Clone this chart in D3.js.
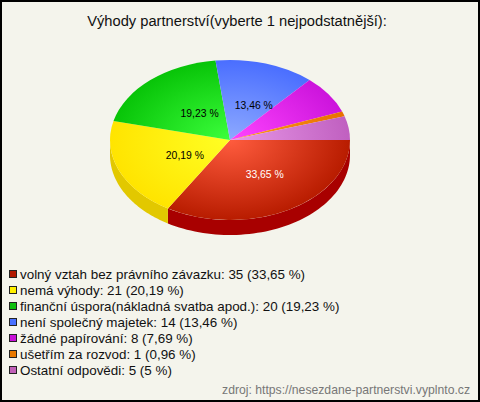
<!DOCTYPE html>
<html><head><meta charset="utf-8">
<script src="https://cdn.jsdelivr.net/npm/d3@7/dist/d3.min.js"></script>
<style>html,body{margin:0;padding:0;background:#f4f4ec}svg{display:block}text{font-family:"Liberation Sans",Arial,sans-serif}</style>
</head><body><svg id="c" width="480" height="402"></svg>
<script>
const categories=["volný vztah bez právního závazku","nemá výhody","finanční úspora(nákladná svatba apod.)","není společný majetek","žádné papírování","ušetřím za rozvod","Ostatní odpovědi"];
const values=[35,21,20,14,8,1,5];
const percentLabels=["33,65 %","20,19 %","19,23 %","13,46 %","7,69 %","0,96 %","5 %"];
const showOnPie=[true,true,true,true,false,false,false];
const labelColors=["#fff","#000","#000","#000","#000","#000","#000"];
const innerColors=["#ff5c3e","#ffff24","#3cff3c","#8eaaff","#ff44ff","#ff9a20","#e898e8"];
const outerColors=["#b81c00","#ffe400","#08c408","#4a6eff","#cc14dc","#e87000","#c060c0"];
const sideColors=["#a80000","#e2c800","#08a008","#3050d0","#a000b0","#c06000","#a050a0"];
const legendColors=["#b01800","#fff000","#10c010","#4870ff","#c810d8","#e87800","#c060b8"];
const title="Výhody partnerství(vyberte 1 nejpodstatnější):";
const source="zdroj: https://nesezdane-partnerstvi.vyplnto.cz";

const W=480,H=402,cx=230,cy=140,rx=120,ry=80,depth=15;
const svg=d3.select("#c");
svg.append("rect").attr("x",1).attr("y",1).attr("width",W-2).attr("height",H-2).attr("fill","#f4f4ec").attr("stroke","#000").attr("stroke-width",2);

svg.append("text").attr("x",237).attr("y",25.5).attr("text-anchor","middle").attr("font-size",14.7).attr("fill","#111").text(title);

const pie=d3.pie().sort(null).startAngle(Math.PI/2).endAngle(Math.PI*2.5)(values);
const arc=d3.arc().innerRadius(0).outerRadius(1);
const defs=svg.append("defs");
pie.forEach((d,i)=>{
  const g=defs.append("radialGradient").attr("id","g"+i).attr("gradientUnits","userSpaceOnUse").attr("cx",0).attr("cy",0).attr("r",1);
  g.append("stop").attr("offset",0).attr("stop-color",innerColors[i]);
  g.append("stop").attr("offset",1).attr("stop-color",outerColors[i]);
});
const root=svg.append("g").attr("transform",`translate(${cx},${cy})`);
const wall=d3.area().x(a=>rx*Math.sin(a)).y0(a=>-ry*Math.cos(a)).y1(a=>-ry*Math.cos(a)+depth);
pie.forEach((d,i)=>{
  const a0=Math.max(d.startAngle,Math.PI/2),a1=Math.min(d.endAngle,Math.PI*1.5);
  if(a1<=a0)return;
  root.append("path").attr("fill",sideColors[i]).attr("d",wall(d3.range(0,61).map(k=>a0+(a1-a0)*k/60)));
});
const face=root.append("g").attr("transform",`scale(${rx},${ry})`);
face.selectAll("path").data(pie).join("path").attr("d",arc).attr("fill",(d,i)=>`url(#g${i})`);
root.selectAll("text").data(pie.filter((d,i)=>showOnPie[i])).join("text")
 .attr("x",d=>rx*0.47*Math.sin((d.startAngle+d.endAngle)/2)+7)
 .attr("y",d=>-ry*0.47*Math.cos((d.startAngle+d.endAngle)/2)+5)
 .attr("text-anchor","middle").attr("font-size",10.4)
 .attr("fill",(d)=>labelColors[d.index]).text(d=>percentLabels[d.index]);

const y=d3.scalePoint().domain(d3.range(values.length)).range([274,370]);
const leg=svg.append("g");
categories.forEach((c,i)=>{
  leg.append("rect").attr("x",9.5).attr("y",y(i)-3.5).attr("width",7).attr("height",7).attr("fill",legendColors[i]).attr("stroke","#222");
  leg.append("text").attr("x",20).attr("y",y(i)+5).attr("font-size",13.4).attr("fill","#111").text(`${c}: ${values[i]} (${percentLabels[i]})`);
});
svg.append("text").attr("x",470).attr("y",394).attr("text-anchor","end").attr("font-size",12.2).attr("fill","#777").text(source);
</script></body></html>
